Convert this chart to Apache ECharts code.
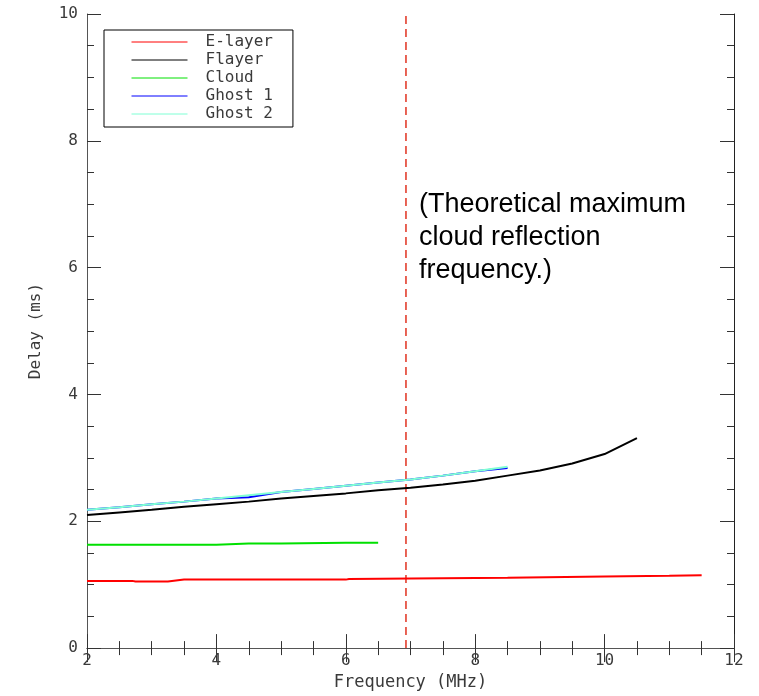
<!DOCTYPE html>
<html>
<head>
<meta charset="utf-8">
<title>Delay vs Frequency</title>
<script src="https://cdn.jsdelivr.net/npm/echarts@6/dist/echarts.min.js"></script>
<style>
  html, body { margin: 0; padding: 0; background: #ffffff; }
  #chart { width: 759px; height: 696px; }
</style>
</head>
<body>
<div id="chart"></div>
<script>
// Echo delay (ms) of each trace against sounding frequency (MHz)
const seriesNames = ['E-layer', 'Flayer', 'Cloud', 'Ghost 1', 'Ghost 2'];

const eLayerFreq  = [2.0, 2.7, 2.75, 3.25, 3.5, 6.0, 6.05, 7.5, 8.5, 10.0, 11.0, 11.5];
const eLayerDelay = [1.06, 1.06, 1.05, 1.05, 1.08, 1.08, 1.09, 1.10, 1.11, 1.13, 1.14, 1.15];

const fLayerFreq  = [2.0, 2.5, 3.0, 3.5, 4.0, 4.5, 5.0, 5.5, 6.0, 6.5, 7.0, 7.5, 8.0, 8.5, 9.0, 9.5, 10.0, 10.5];
const fLayerDelay = [2.10, 2.14, 2.18, 2.23, 2.27, 2.31, 2.36, 2.40, 2.44, 2.49, 2.53, 2.58, 2.64, 2.72, 2.80, 2.91, 3.06, 3.31];

const cloudFreq  = [2.0, 3.0, 4.0, 4.5, 5.0, 6.0, 6.5];
const cloudDelay = [1.63, 1.63, 1.63, 1.65, 1.65, 1.66, 1.66];

const ghost1Freq  = [2.0, 2.5, 3.0, 3.5, 4.0, 4.5, 5.0, 5.5, 6.0, 6.5, 7.0, 7.5, 8.0, 8.5];
const ghost1Delay = [2.18, 2.22, 2.27, 2.31, 2.36, 2.38, 2.46, 2.51, 2.56, 2.61, 2.66, 2.72, 2.79, 2.84];

const ghost2Freq  = [2.0, 2.5, 3.0, 3.5, 4.0, 4.5, 5.0, 5.5, 6.0, 6.5, 7.0, 7.5, 8.0, 8.5];
const ghost2Delay = [2.18, 2.22, 2.27, 2.31, 2.36, 2.41, 2.46, 2.51, 2.56, 2.61, 2.66, 2.72, 2.79, 2.86];

// Theoretical maximum cloud reflection frequency (MHz)
const cloudMaxFreq = 6.93;
const delayRange = [0, 10];

const noteLines = ['(Theoretical maximum', 'cloud reflection', 'frequency.)'];

const seriesColors = ['#ff0000', '#000000', '#00e000', '#0000ff', '#7fffd4'];

const pair = (xs, ys) => xs.map((x, i) => [x, ys[i]]);

const monoFont = '"DejaVu Sans Mono", monospace';
const axisColor = '#555555';
const textColor = '#3a3a3a';

function frameAxis(extra) {
  return Object.assign({
    type: 'value',
    interval: 2,
    splitNumber: 5,
    axisLine: { show: true, lineStyle: { color: axisColor, width: 1 } },
    axisTick: { show: true, inside: true, length: 14, lineStyle: { color: '#333333', width: 1 } },
    minorTick: { show: true, splitNumber: 4, length: 7, lineStyle: { color: '#333333', width: 1 } },
    splitLine: { show: false },
    minorSplitLine: { show: false }
  }, extra);
}

const chart = echarts.init(document.getElementById('chart'), null, { renderer: 'canvas' });

const dataSets = [
  pair(eLayerFreq, eLayerDelay),
  pair(fLayerFreq, fLayerDelay),
  pair(cloudFreq, cloudDelay),
  pair(ghost1Freq, ghost1Delay),
  pair(ghost2Freq, ghost2Delay)
];

const lineSeries = seriesNames.map((name, i) => ({
  name: name,
  type: 'line',
  data: dataSets[i],
  showSymbol: false,
  symbol: 'none',
  smooth: false,
  color: seriesColors[i],
  lineStyle: { color: seriesColors[i], width: 2 },
  z: 3 + i,
  animation: false
}));

lineSeries.push({
  name: 'cutoff',
  type: 'line',
  data: [[cloudMaxFreq, delayRange[0]], [cloudMaxFreq, delayRange[1]]],
  showSymbol: false,
  symbol: 'none',
  lineStyle: { color: '#e0301e', width: 1.5, type: [8, 5] },
  z: 2,
  animation: false,
  silent: true
});

chart.setOption({
  animation: false,
  backgroundColor: '#ffffff',
  grid: { left: 87, top: 14, right: 25, bottom: 38, containLabel: false },
  xAxis: [
    frameAxis({
      min: 2, max: 12, position: 'bottom',
      name: 'Frequency (MHz)', nameLocation: 'middle', nameGap: 19,
      nameTextStyle: { fontFamily: monoFont, fontSize: 17, color: textColor },
      axisLabel: { show: true, margin: 5, fontFamily: monoFont, fontSize: 16, color: textColor }
    }),
    frameAxis({
      min: 2, max: 12, position: 'top',
      axisLabel: { show: false }
    })
  ],
  yAxis: [
    frameAxis({
      min: 0, max: 10, position: 'left',
      name: 'Delay (ms)', nameLocation: 'middle', nameGap: 43, nameRotate: 90,
      nameTextStyle: { fontFamily: monoFont, fontSize: 16, color: textColor },
      axisLabel: { show: true, margin: 9, fontFamily: monoFont, fontSize: 16, color: textColor }
    }),
    frameAxis({
      min: 0, max: 10, position: 'right',
      axisLine: { show: true, lineStyle: { color: '#222222', width: 1 } },
      axisLabel: { show: false }
    })
  ],
  legend: {
    show: true,
    data: seriesNames,
    orient: 'vertical',
    left: 104,
    top: 30,
    itemWidth: 56,
    itemHeight: 14,
    itemGap: 2,
    padding: [4, 20, 5, 27],
    borderColor: '#000000',
    borderWidth: 1,
    backgroundColor: '#ffffff',
    selectedMode: false,
    itemStyle: { opacity: 0 },
    lineStyle: { width: 1, opacity: 1 },
    textStyle: { fontFamily: monoFont, fontSize: 16, color: textColor, padding: [0, 0, 0, 13] }
  },
  graphic: [{
    type: 'text',
    left: 419,
    top: 188,
    z: 10,
    style: {
      text: noteLines.join('\n'),
      font: '27px "Liberation Sans", Arial, sans-serif',
      lineHeight: 33,
      fill: '#000000'
    }
  }],
  series: lineSeries
});
</script>
</body>
</html>
